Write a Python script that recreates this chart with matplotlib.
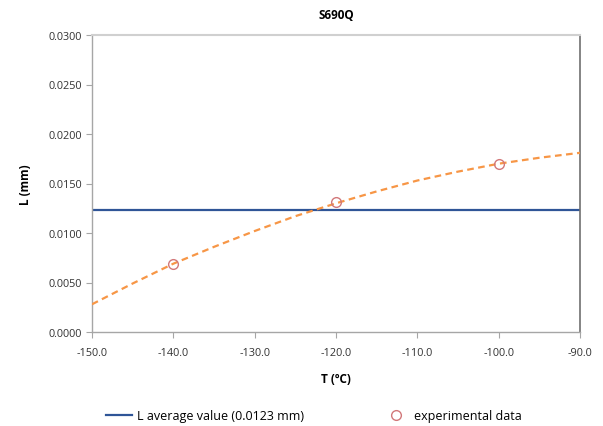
import matplotlib
matplotlib.use("Agg")
import matplotlib.pyplot as plt
from matplotlib.ticker import FormatStrFormatter

plt.rcParams['font.family'] = ['Open Sans', 'DejaVu Sans']

# fitted curve L(T), read at 5 degree steps
fit_T = [-150, -145, -140, -135, -130, -125, -120, -115, -110, -105, -100, -95, -90]
fit_L = [0.0028, 0.0049, 0.0069, 0.0086, 0.0102, 0.0117, 0.0130, 0.0142,
         0.0153, 0.0162, 0.0170, 0.0176, 0.0181]

# measured points
exp_T = [-140, -120, -100]
exp_L = [0.0069, 0.0131, 0.0170]

L_avg = 0.0123

fig = plt.figure(figsize=(6.03, 4.27), dpi=100)
ax = fig.add_axes([92/603, 1 - 333/427, (580-92)/603, (333-36)/427])

ax.axhline(L_avg, color='#2F5597', lw=1.6, zorder=2,
           label='L average value (0.0123 mm)')
ax.plot(fit_T, fit_L, color='#F79646', lw=1.6, ls=(0, (3, 2)), zorder=3)
ax.plot(exp_T, exp_L, ls='none', marker='o', ms=7, mfc='none', mec='#D2787A',
        mew=1.0, zorder=4, label='experimental data')

ax.set_xlim(-150, -90)
ax.set_ylim(0, 0.03)
ax.set_xticks(range(-150, -89, 10))
ax.set_yticks([0, 0.005, 0.01, 0.015, 0.02, 0.025, 0.03])
ax.xaxis.set_major_formatter(FormatStrFormatter('%.1f'))
ax.yaxis.set_major_formatter(FormatStrFormatter('%.4f'))
ax.tick_params(labelsize=7.8, length=4, width=0.8, direction='out', pad=3,
               colors='#A6A6A6', labelcolor='#333333')
ax.tick_params(axis='x', pad=7)
for s in ['left', 'bottom']:
    ax.spines[s].set_color('#A6A6A6')
    ax.spines[s].set_linewidth(1.0)
ax.spines['top'].set_color('#D0D0D0')
ax.spines['top'].set_linewidth(1.5)
ax.spines['right'].set_color('#707070')
ax.spines['right'].set_linewidth(1.2)

ax.set_xlabel('T (ºC)', fontsize=8.5, fontweight='bold', labelpad=10)
ax.set_ylabel('L (mm)', fontsize=8.5, fontweight='bold', labelpad=12)
ax.set_title('S690Q', fontsize=8.5, fontweight='bold', pad=12)

fig.legend(loc='center', bbox_to_anchor=(314/603, 1 - 417/427), ncol=2, frameon=False,
           fontsize=9, columnspacing=6.3, handlelength=2.1, handletextpad=0.4)

fig.savefig('out.png', dpi=100)
